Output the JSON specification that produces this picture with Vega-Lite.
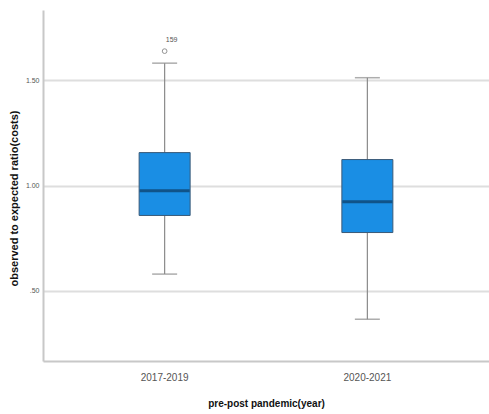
{
  "$schema": "https://vega.github.io/schema/vega-lite/v6.json",
  "autosize": {"type": "none"},
  "padding": {"left": 43, "top": 10, "right": 0, "bottom": 53},
  "width": 446,
  "height": 351,
  "background": "white",
  "config": {
    "view": {"stroke": null},
    "font": "Liberation Sans",
    "axis": {
      "domainColor": "#c8c8c8",
      "domainWidth": 2,
      "ticks": false,
      "labelColor": "#555555",
      "titleColor": "#111111",
      "titleFontWeight": "bold",
      "labelFont": "Liberation Sans",
      "titleFont": "Liberation Sans"
    }
  },
  "datasets": {
    "summary": [
      {"period": "2017-2019", "lower": 0.58, "q1": 0.858, "median": 0.975, "q3": 1.156, "upper": 1.58},
      {"period": "2020-2021", "lower": 0.366, "q1": 0.777, "median": 0.923, "q3": 1.123, "upper": 1.511}
    ],
    "outliers": [
      {"period": "2017-2019", "value": 1.637, "case": "159"}
    ]
  },
  "encoding": {
    "x": {
      "field": "period",
      "type": "nominal",
      "sort": ["2017-2019", "2020-2021"],
      "scale": {"domain": ["2017-2019", "2020-2021"], "paddingInner": 0, "paddingOuter": 0.1},
      "axis": {
        "title": "pre-post pandemic(year)",
        "labelAngle": 0,
        "labelFontSize": 10,
        "labelPadding": 11,
        "titleFontSize": 10,
        "titlePadding": 16,
        "grid": false
      }
    }
  },
  "layer": [
    {
      "data": {"name": "summary"},
      "mark": {"type": "rule", "color": "#8a8a8a", "strokeWidth": 1.2},
      "encoding": {
        "y": {
          "field": "lower",
          "type": "quantitative",
          "scale": {"domain": [0.168, 1.832], "nice": false, "zero": false},
          "axis": {
            "title": "observed to expected ratio(costs)",
            "values": [0.5, 1.0, 1.5],
            "labelExpr": "datum.value == 0.5 ? '.50' : format(datum.value, '.2f')",
            "labelFontSize": 7,
            "labelPadding": 4,
            "titleFontSize": 11,
            "titleX": -24,
            "titleY": 188,
            "titleAlign": "center",
            "titleBaseline": "bottom",
            "grid": true,
            "gridColor": "#dedede",
            "gridWidth": 2
          }
        },
        "y2": {"field": "upper"}
      }
    },
    {
      "data": {"name": "summary"},
      "mark": {"type": "tick", "orient": "horizontal", "color": "#8a8a8a", "size": 25, "thickness": 1.5},
      "encoding": {"y": {"field": "lower", "type": "quantitative"}}
    },
    {
      "data": {"name": "summary"},
      "mark": {"type": "tick", "orient": "horizontal", "color": "#8a8a8a", "size": 25, "thickness": 1.5},
      "encoding": {"y": {"field": "upper", "type": "quantitative"}}
    },
    {
      "data": {"name": "summary"},
      "mark": {"type": "bar", "size": 51, "color": "#1a8ee4", "stroke": "#3a5a78", "strokeWidth": 1},
      "encoding": {
        "y": {"field": "q1", "type": "quantitative"},
        "y2": {"field": "q3"}
      }
    },
    {
      "data": {"name": "summary"},
      "mark": {"type": "tick", "orient": "horizontal", "color": "#0d3a62", "size": 50, "thickness": 3},
      "encoding": {"y": {"field": "median", "type": "quantitative"}}
    },
    {
      "data": {"name": "outliers"},
      "mark": {"type": "point", "shape": "circle", "filled": false, "color": "#666666", "size": 22, "strokeWidth": 1},
      "encoding": {"y": {"field": "value", "type": "quantitative"}}
    },
    {
      "data": {"name": "outliers"},
      "mark": {"type": "text", "fontSize": 7, "color": "#555555", "dx": 7, "dy": -11},
      "encoding": {
        "y": {"field": "value", "type": "quantitative"},
        "text": {"field": "case"}
      }
    }
  ]
}
